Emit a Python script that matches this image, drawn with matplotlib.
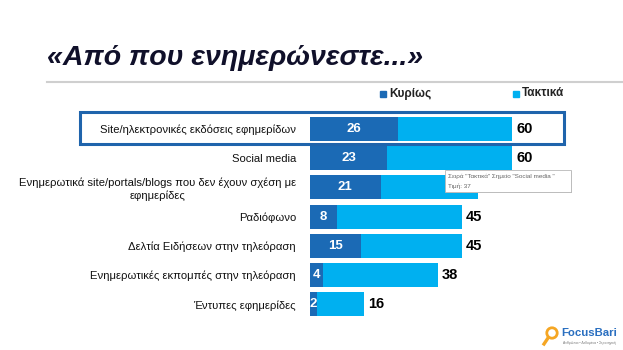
import matplotlib.pyplot as plt
from matplotlib.patches import Rectangle, Circle
from matplotlib.lines import Line2D

# data
categories = [
    "Site/ηλεκτρονικές εκδόσεις εφημερίδων",
    "Social media",
    "Ενημερωτικά site/portals/blogs που δεν έχουν σχέση με\nεφημερίδες",
    "Ραδιόφωνο",
    "Δελτία Ειδήσεων στην τηλεόραση",
    "Ενημερωτικές εκπομπές στην τηλεόραση",
    "Έντυπες εφημερίδες",
]
mainly = [26, 23, 21, 8, 15, 4, 2]          # Κυρίως
regularly = [34, 37, 29, 37, 30, 34, 14]    # Τακτικά
totals = [m + r for m, r in zip(mainly, regularly)]

DARK = "#1b6ab5"
LIGHT = "#00b0f0"
W, H = 623, 350

plt.rcParams["font.family"] = ["Liberation Sans", "DejaVu Sans"]


def fx(x):
    return x / W


def fy(y):
    return 1 - y / H


fig = plt.figure(figsize=(W / 100, H / 100), dpi=100)

# title + rule
fig.text(fx(47), fy(58), "«Από που ενημερώνεστε...»", fontsize=20.5,
         fontweight="bold", style="italic", color="#10102a", va="center")
fig.add_artist(Line2D([fx(47), 1], [fy(82), fy(82)], color="#cfcfcf", lw=1.5))

# legend
for x0, lab, col in [(380, "Κυρίως", DARK), (513, "Τακτικά", LIGHT)]:
    fig.add_artist(Rectangle((fx(x0), fy(97)), 6 / W, 6 / H, color=col,
                             transform=fig.transFigure))
    fig.text(fx(x0 + 9), fy(93.5), lab, fontsize=8.5, fontweight="bold",
             color="#222222", va="center")

# bars
ax = fig.add_axes([fx(310), fy(319), 300 / W, (319 - 114.4) / H])
ypos = list(range(len(categories)))
ax.barh(ypos, mainly, height=0.82, color=DARK)
ax.barh(ypos, regularly, left=mainly, height=0.82, color=LIGHT)
ax.set_xlim(0, 300 / 3.367)
ax.set_ylim(len(categories) - 0.5, -0.5)
ax.set_xticks([])
ax.set_yticks(ypos, categories, fontsize=8.1, color="#111111")
for lbl in ax.get_yticklabels():
    lbl.set_multialignment("center")
ax.tick_params(axis="y", length=0, pad=10)
for s in ax.spines.values():
    s.set_visible(False)
ax.patch.set_alpha(0)

for i, (m, t) in enumerate(zip(mainly, totals)):
    ax.text(m / 2, i, str(m), ha="center", va="center", color="white",
            fontweight="bold", fontsize=9.5)
    ax.text(t + 1.2, i, str(t), ha="left", va="center", color="black",
            fontweight="bold", fontsize=10.5)

# highlight frame around the first row
fig.add_artist(Rectangle((fx(80), fy(144)), 484 / W, 32 / H, fill=False,
                         ec="#1f64ac", lw=2.2, transform=fig.transFigure))

# tooltip left in the screenshot
fig.add_artist(Rectangle((fx(446), fy(193)), 126 / W, 22 / H, fc="#b0b0b0",
                         ec="none", transform=fig.transFigure, zorder=5))
fig.add_artist(Rectangle((fx(445), fy(192)), 126 / W, 22 / H, fc="white",
                         ec="#b8b8b8", lw=0.6, transform=fig.transFigure, zorder=6))
fig.text(fx(448), fy(176), 'Σειρά "Τακτικά" Σημείο "Social media "', fontsize=4.6,
         color="#666666", va="center", zorder=7)
fig.text(fx(448), fy(186), "Τιμή: 37", fontsize=4.6, color="#666666",
         va="center", zorder=7)

# logo
fig.add_artist(Circle((552 / 100, (H - 333) / 100), 0.052, fill=False,
                      ec="#f5a623", lw=2, transform=fig.dpi_scale_trans))
fig.add_artist(Line2D([fx(544), fx(548)], [fy(344), fy(338)], color="#f5a623",
                      lw=2.4))
fig.text(fx(561), fy(333), "FocusBari", fontsize=8.2, fontweight="bold",
         color="#2a6fc0", va="center")
fig.text(fx(563), fy(343), "Ανθρώποι • Δεδομένα • Στρατηγική", fontsize=2.4,
         color="#777777", va="center")

fig.savefig("out.png", dpi=100)
